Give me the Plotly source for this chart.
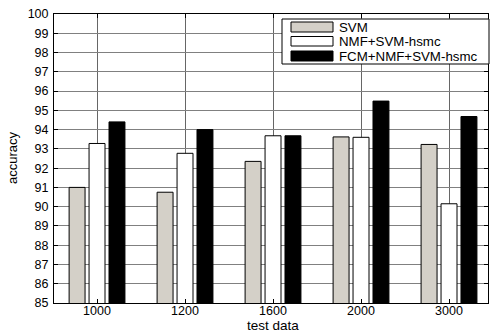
import plotly.graph_objects as go

categories = ["1000", "1200", "1600", "2000", "3000"]
series_names = ["SVM", "NMF+SVM-hsmc", "FCM+NMF+SVM-hsmc"]
svm = [91.0, 90.75, 92.35, 93.62, 93.23]
nmf_svm = [93.28, 92.77, 93.68, 93.6, 90.15]
fcm_nmf_svm = [94.4, 94.0, 93.68, 95.48, 94.68]
y_ticks = list(range(85, 101))

colors = ["#d4d0c8", "#ffffff", "#000000"]
values = [svm, nmf_svm, fcm_nmf_svm]

W, H = 492, 332
L, R, T, B = 54, 488, 14, 303

fig = go.Figure()
for name, vals, c in zip(series_names, values, colors):
    fig.add_trace(go.Bar(x=categories, y=vals, name=name, marker=dict(color=c, line=dict(color="black", width=1)),
                         showlegend=False))

font = dict(family="Liberation Sans, Arial, sans-serif", size=12, color="black")

def px(x):
    return (x - L) / (R - L)

def py(y):
    return (B - y) / (B - T)

shapes = []
annotations = []
# legend box
shapes.append(dict(type="rect", xref="paper", yref="paper", x0=px(282), x1=px(489), y0=py(64), y1=py(19),
                   line=dict(color="black", width=1), fillcolor="white", layer="above"))
rows = [(22, 32), (36.5, 46), (51, 61)]
for (y0, y1), name, c in zip(rows, series_names, colors):
    shapes.append(dict(type="rect", xref="paper", yref="paper", x0=px(291), x1=px(333), y0=py(y1), y1=py(y0),
                       line=dict(color="black", width=1), fillcolor=c, layer="above"))
    annotations.append(dict(xref="paper", yref="paper", x=px(337), y=py((y0 + y1) / 2), text=name, showarrow=False,
                            xanchor="left", yanchor="middle", font=dict(font, size=13.3)))
annotations.append(dict(xref="paper", yref="paper", x=px(273), y=py(325.5), text="test data", showarrow=False,
                        xanchor="center", yanchor="middle", font=dict(font, size=13.5)))
annotations.append(dict(xref="paper", yref="paper", x=px(12), y=py(158), text="accuracy", showarrow=False,
                        xanchor="center", yanchor="middle", textangle=-90, font=dict(font, size=13)))

fig.update_layout(
    width=W, height=H,
    margin=dict(l=L, r=W - R, t=T, b=H - B, pad=0),
    paper_bgcolor="white", plot_bgcolor="white",
    barmode="group", bargap=0.32, bargroupgap=0.2,
    font=font,
    shapes=shapes, annotations=annotations,
    showlegend=False,
)
fig.update_xaxes(range=[-0.489, 4.443], showline=True, linecolor="black", linewidth=1, mirror="ticks",
                 ticks="inside", ticklen=4, tickcolor="black", showgrid=True, gridcolor="#666666", gridwidth=1,
                 tickfont=dict(font, size=12.5), ticklabelstandoff=-4)
fig.update_yaxes(range=[85, 100], tickvals=y_ticks, ticktext=[str(v) for v in y_ticks], showline=True,
                 linecolor="black", linewidth=1, mirror="ticks", ticks="inside", ticklen=4, tickcolor="black",
                 showgrid=True, gridcolor="#808080", gridwidth=1, zeroline=False, tickfont=dict(font, size=12.5),
                 ticklabelstandoff=2)

fig.write_html("out.html", config={"displayModeBar": False},
               post_script="document.body.style.margin='0px';document.body.style.overflow='hidden';")
